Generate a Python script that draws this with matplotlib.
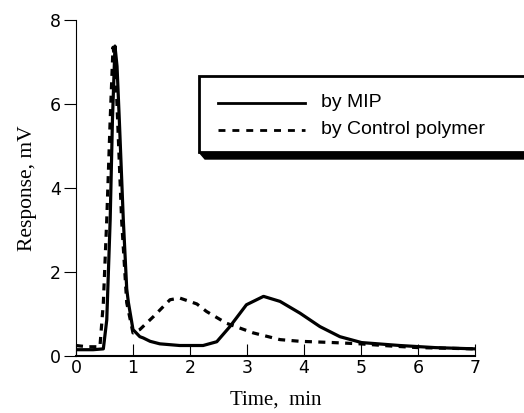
import matplotlib
matplotlib.use("Agg")
import matplotlib.pyplot as plt
from matplotlib.patches import Rectangle, Polygon
from matplotlib.lines import Line2D

# by MIP (solid)
t_mip = [0.0, 0.3, 0.48, 0.54, 0.60, 0.64, 0.684, 0.72, 0.76, 0.83, 0.89, 0.92, 1.0, 1.12,
         1.18, 1.30, 1.47, 1.82, 2.23, 2.47, 2.70, 2.99, 3.29, 3.58, 3.93, 4.28, 4.63,
         5.01, 5.68, 6.3, 7.0]
r_mip = [0.15, 0.15, 0.17, 0.86, 3.25, 5.63, 7.38, 6.9, 5.63, 3.25, 1.6, 1.27, 0.63, 0.46,
         0.43, 0.35, 0.29, 0.25, 0.25, 0.34, 0.70, 1.22, 1.42, 1.30, 1.02, 0.70, 0.46,
         0.32, 0.25, 0.2, 0.17]

# by Control polymer (dashed)
t_ctl = [0.0, 0.2, 0.42, 0.48, 0.54, 0.60, 0.65, 0.69, 0.73, 0.80, 0.89, 1.0, 1.12, 1.36,
         1.65, 1.82, 2.12, 2.29, 2.64, 3.11, 3.58, 3.93, 4.51, 4.98, 5.5, 6.0, 7.0]
r_ctl = [0.25, 0.22, 0.22, 1.27, 3.25, 5.63, 7.35, 7.0, 5.63, 3.25, 1.27, 0.55, 0.63, 0.94,
         1.34, 1.38, 1.24, 1.06, 0.78, 0.55, 0.39, 0.35, 0.32, 0.29, 0.24, 0.2, 0.17]

legend_labels = ["by MIP", "by Control polymer"]

fig = plt.figure(figsize=(5.24, 4.13), dpi=100)
ax = fig.add_axes([0.145, 0.138, 0.7615, 0.8136])

ax.plot(t_mip, r_mip, color="black", lw=2.3, solid_joinstyle="round")
ax.plot(t_ctl, r_ctl, color="black", lw=2.3, linestyle=(0, (2.2, 2.0)))

ax.set_xlim(0, 7)
ax.set_ylim(0, 8)
ax.set_xticks(range(0, 8))
ax.set_yticks([0, 2, 4, 6, 8])
ax.spines["top"].set_visible(False)
ax.spines["right"].set_visible(False)
ax.spines["left"].set_linewidth(0.8)
ax.spines["bottom"].set_linewidth(1.5)
ax.tick_params(axis="x", direction="in", length=9, width=0.8, pad=2, labelsize=12.5)
ax.tick_params(axis="y", direction="out", length=9, width=0.8, pad=2, labelsize=12.5)
for lab in ax.get_xticklabels() + ax.get_yticklabels():
    lab.set_fontfamily("DejaVu Sans")

ax.set_xlabel("Time,  min", fontfamily="Liberation Serif", fontsize=15, labelpad=10)
ax.set_ylabel("Response, mV", fontfamily="Liberation Serif", fontsize=15.5, labelpad=9)

# legend box with drop shadow, drawn in figure coords
W, H = 524.0, 413.0
shadow = Polygon([(199 / W, 1 - 152 / H), (205 / W, 1 - 159 / H), (540 / W, 1 - 159 / H),
                  (540 / W, 1 - 152 / H)], closed=True, transform=fig.transFigure,
                 facecolor="black", edgecolor="black", zorder=5)
box = Rectangle((199 / W, 1 - 152 / H), 340 / W, 76 / H, transform=fig.transFigure,
                facecolor="white", edgecolor="black", lw=2.0, zorder=6)
fig.patches.extend([shadow, box])

fig.lines.append(Line2D([218 / W, 305 / W], [1 - 102.5 / H, 1 - 102.5 / H],
                        transform=fig.transFigure, color="black", lw=2.0, zorder=7))
fig.lines.append(Line2D([218 / W, 305 / W], [1 - 130 / H, 1 - 130 / H],
                        transform=fig.transFigure, color="black", lw=2.0,
                        linestyle=(0, (2.5, 2.5)), zorder=7))
for lbl, yy in zip(legend_labels, [102.5, 130]):
    fig.text(321 / W, 1 - yy / H, lbl, fontfamily="Liberation Sans", fontsize=14,
             va="center", ha="left", zorder=8)

fig.savefig("out.png", dpi=100)
